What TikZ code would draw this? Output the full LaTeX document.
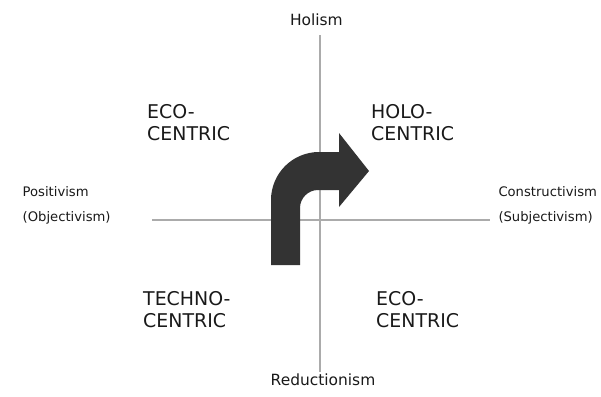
\documentclass[tikz,border=0pt]{standalone}
\usepackage{fontspec}
\setmainfont{DejaVu Sans}
\begin{document}
\begin{tikzpicture}[x=1bp,y=-1bp,
  axisline/.style={draw=black!33,line width=2bp},
  biglabel/.style={anchor=north west,inner sep=0pt,align=left,text=black!90,font=\fontsize{19}{22.5}\selectfont},
  smalllabel/.style={anchor=north west,inner sep=0pt,align=left,text=black!90,font=\fontsize{13.2}{24.5}\selectfont},
  poletext/.style={anchor=base,inner sep=0pt,text=black!90,font=\fontsize{15.5}{18}\selectfont},
  arrowfill/.style={fill=black!80,draw=none}]
\useasboundingbox (0,0) rectangle (601,396);
% axes
\coordinate (vtop) at (319.5,35);
\coordinate (vbot) at (319.5,372);
\coordinate (hleft) at (152,219.5);
\coordinate (hright) at (490,219.5);
\draw[axisline] (vtop) -- (vbot);
\draw[axisline] (hleft) -- (hright);
% pole labels
\node[poletext] (holism) at (316.4,25.7) {Holism};
\node[poletext] (reduct) at (323,385) {Reductionism};
\node[smalllabel] (posit) at (22.5,186.5) {Positivism\\(Objectivism)};
\node[smalllabel] (constr) at (498.3,186.5) {Constructivism\\(Subjectivism)};
% quadrant labels
\node[biglabel] (ecoul) at (147,104) {ECO-\\CENTRIC};
\node[biglabel] (holo) at (371,104) {HOLO-\\CENTRIC};
\node[biglabel] (techno) at (143,291) {TECHNO-\\CENTRIC};
\node[biglabel] (ecolr) at (376,291) {ECO-\\CENTRIC};
% turning arrow
\fill[arrowfill] (271,265) -- (271,200)
  .. controls (271,173.5) and (292.5,152) .. (319,152)
  -- (339,152) -- (339,133) -- (369,171) -- (339,207) -- (339,190)
  -- (318,190) .. controls (308.1,190) and (300,198.1) .. (300,208)
  -- (300,265) -- cycle;
\end{tikzpicture}
\end{document}
